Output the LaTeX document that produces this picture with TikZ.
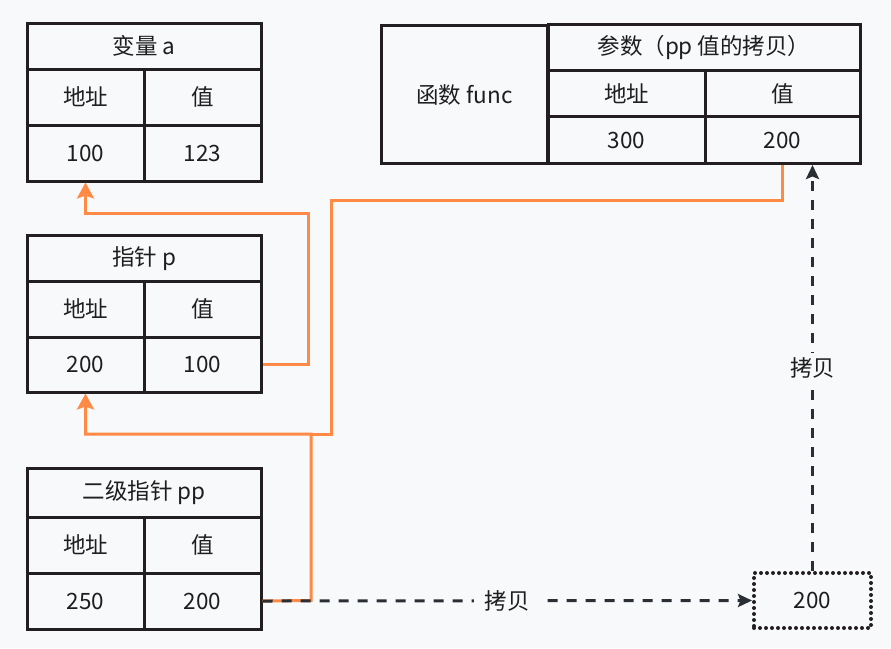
\documentclass[tikz,border=0pt]{standalone}
\usepackage{fontspec}
\setmainfont{Noto Sans CJK SC}
\usetikzlibrary{arrows.meta}
\definecolor{bg}{HTML}{F8F9FB}
\definecolor{bord}{HTML}{231F20}
\definecolor{org}{HTML}{FF8A45}
\definecolor{dsh}{HTML}{2A2E35}
\definecolor{txt}{HTML}{1E1E1E}
\begin{document}
\begin{tikzpicture}[x=1pt,y=-1pt,
  cell/.style={draw=bord,line width=3pt,inner sep=0pt,text=txt,font=\fontsize{22.5}{26}\selectfont},
  olink/.style={draw=org,line width=3pt},
  otip/.style={-{Stealth[length=16pt,width=17pt,inset=3pt]}},
  dlink/.style={draw=dsh,line width=3pt,dash pattern=on 10pt off 9pt},
  dtip/.style={-{Stealth[length=14pt,width=13pt,inset=2.5pt]}},
  lbl/.style={fill=bg,inner xsep=11pt,inner ysep=5pt,text=txt,font=\fontsize{22.5}{26}\selectfont}]
\useasboundingbox (0,0) rectangle (891,648);
\fill[bg] (0,0) rectangle (891,648);

% connector corners
\coordinate (pa1) at (308,364.5);
\coordinate (pa2) at (308,213);
\coordinate (pp1) at (311,600.5);
\coordinate (pp2) at (311,434);
\coordinate (fj1) at (331,434);
\coordinate (fj2) at (331,200);

% table a
\node[cell,minimum width=234pt,minimum height=46pt] (aT) at (144,46) {变量 a};
\node[cell,minimum width=117pt,minimum height=56pt] (aAH) at (85.5,97) {地址};
\node[cell,minimum width=117pt,minimum height=56pt] (aVH) at (202.5,97) {值};
\node[cell,minimum width=117pt,minimum height=56pt] (aA) at (85.5,153) {100};
\node[cell,minimum width=117pt,minimum height=56pt] (aV) at (202.5,153) {123};

% table p
\node[cell,minimum width=234pt,minimum height=46pt] (pT) at (144,258.5) {指针 p};
\node[cell,minimum width=117pt,minimum height=56pt] (pAH) at (85.5,309) {地址};
\node[cell,minimum width=117pt,minimum height=56pt] (pVH) at (202.5,309) {值};
\node[cell,minimum width=117pt,minimum height=55pt] (pA) at (85.5,364.5) {200};
\node[cell,minimum width=117pt,minimum height=55pt] (pV) at (202.5,364.5) {100};

% table pp
\node[cell,minimum width=234pt,minimum height=49pt] (qT) at (144,492.5) {二级指针 pp};
\node[cell,minimum width=117pt,minimum height=56pt] (qAH) at (85.5,545) {地址};
\node[cell,minimum width=117pt,minimum height=56pt] (qVH) at (202.5,545) {值};
\node[cell,minimum width=117pt,minimum height=56pt] (qA) at (85.5,601) {250};
\node[cell,minimum width=117pt,minimum height=56pt] (qV) at (202.5,601) {200};

% func table
\node[cell,minimum width=166pt,minimum height=138pt] (fN) at (464.5,94.5) {函数 func};
\node[cell,minimum width=312pt,minimum height=46pt] (fT) at (704,47.5) {参数（pp 值的拷贝）};
\node[cell,minimum width=157pt,minimum height=46pt] (fAH) at (626.5,93.5) {地址};
\node[cell,minimum width=155pt,minimum height=46pt] (fVH) at (782.5,93.5) {值};
\node[cell,minimum width=157pt,minimum height=47pt] (fA) at (626.5,140) {300};
\node[cell,minimum width=155pt,minimum height=47pt] (fV) at (782.5,140) {200};

% copy box
\node[draw=bord,line width=4pt,dash pattern=on 0pt off 6pt,line cap=round,
      minimum width=117pt,minimum height=55pt,inner sep=0pt,text=txt,
      font=\fontsize{22.5}{26}\selectfont] (cp) at (812.5,600.5) {200};

% orange links
\draw[olink,otip] (pV.east) -- (pa1) -- (pa2) -| (aA.south);
\draw[olink,otip] (qV.east) -- (pp1) -- (pp2) -| (pA.south);
\draw[olink] (fV.south) |- (fj2) -- (fj1) -- (pp2);

% dashed copy links
\draw[dlink,dtip] (qV.east) -- (cp.west) node[lbl,midway] (l1) {拷贝};
\draw[dlink,dtip] (cp.north) -- (cp.north |- fV.south) node[lbl,midway] (l2) {拷贝};
\end{tikzpicture}
\end{document}
